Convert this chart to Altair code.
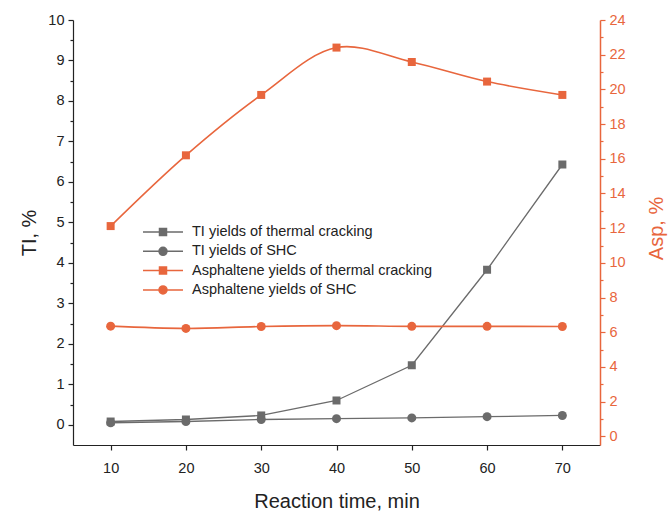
import altair as alt
import pandas as pd

# Reaction time (min) and yields (%)
time_min = [10, 20, 30, 40, 50, 60, 70]
ti_thermal = [0.08, 0.13, 0.23, 0.60, 1.47, 3.83, 6.43]
ti_shc = [0.05, 0.08, 0.13, 0.15, 0.17, 0.20, 0.23]
asp_thermal = [12.12, 16.20, 19.68, 22.41, 21.58, 20.45, 19.68]
asp_shc = [6.35, 6.22, 6.33, 6.38, 6.34, 6.34, 6.33]

series_names = [
    "TI yields of thermal cracking",
    "TI yields of SHC",
    "Asphaltene yields of thermal cracking",
    "Asphaltene yields of SHC",
]

x_ticks = [10, 20, 30, 40, 50, 60, 70]
ti_ticks = list(range(0, 11))
ti_minor = [i + 0.5 for i in range(0, 10)]
asp_ticks = list(range(0, 25, 2))
asp_minor = list(range(1, 24, 2))

GREY = "#6b6b6b"
ORANGE = "#e8663d"
INK = "#222222"
FONT = "Liberation Sans"

ti_df = pd.DataFrame({
    "time": time_min * 2,
    "value": ti_thermal + ti_shc,
    "series": [series_names[0]] * len(time_min) + [series_names[1]] * len(time_min),
})
asp_df = pd.DataFrame({
    "time": time_min * 2,
    "value": asp_thermal + asp_shc,
    "series": [series_names[2]] * len(time_min) + [series_names[3]] * len(time_min),
})

x_enc = alt.X(
    "time:Q",
    scale=alt.Scale(domain=[5, 75], nice=False, zero=False),
    axis=alt.Axis(
        values=x_ticks, title="Reaction time, min", grid=False,
        domainColor=INK, tickColor=INK, labelColor=INK, titleColor=INK,
        labelFont=FONT, titleFont=FONT, labelFontSize=14.5, titleFontSize=20,
        titleFontWeight="normal", tickSize=5, labelPadding=11, titlePadding=17,
        domainWidth=1.2, tickWidth=1.2,
    ),
)

ti_scale = alt.Scale(domain=[-0.5, 10], nice=False, zero=False)
asp_scale = alt.Scale(domain=[-0.5, 24], nice=False, zero=False)

ti_y = alt.Y(
    "value:Q", scale=ti_scale,
    axis=alt.Axis(
        orient="left", values=ti_ticks, title="TI, %", grid=False,
        domainColor=INK, tickColor=INK, labelColor=INK, titleColor=INK,
        labelFont=FONT, titleFont=FONT, labelFontSize=14.5, titleFontSize=20,
        titleFontWeight="normal", tickSize=5, labelPadding=4, titlePadding=8,
        domainWidth=1.2, tickWidth=1.2,
    ),
)
asp_y = alt.Y(
    "value:Q", scale=asp_scale,
    axis=alt.Axis(
        orient="right", values=asp_ticks, title="Asp, %", grid=False,
        domainColor=ORANGE, tickColor=ORANGE, labelColor=ORANGE, titleColor=ORANGE,
        labelFont=FONT, titleFont=FONT, labelFontSize=14.5, titleFontSize=20,
        titleFontWeight="normal", tickSize=5, labelPadding=4,
        titleAngle=270, titleBaseline="middle", titleAlign="center",
        titleX=56, titleY=208, domainWidth=1.5, tickWidth=1.2,
    ),
)

# TI series (left axis)
ti_base = alt.Chart(ti_df).encode(x=x_enc, y=ti_y)
ti_lines = ti_base.mark_line(color=GREY, strokeWidth=1.3).encode(detail="series:N")
ti_sq = ti_base.transform_filter(alt.datum.series == series_names[0]).mark_point(
    shape="square", filled=True, size=64, color=GREY, opacity=1)
ti_ci = ti_base.transform_filter(alt.datum.series == series_names[1]).mark_point(
    shape="circle", filled=True, size=81, color=GREY, opacity=1)
ti_group = alt.layer(ti_lines, ti_sq, ti_ci)

# minor ticks of the left axis
ti_minor_axis = alt.Chart(ti_df).transform_filter("false").mark_point().encode(
    y=alt.Y("value:Q", scale=ti_scale, axis=alt.Axis(
        orient="left", values=ti_minor, title="", labels=False, domain=False,
        grid=False, tickSize=3, tickColor=INK, tickWidth=1.2)))

# Asphaltene series (right axis)
asp_base = alt.Chart(asp_df).encode(x=x_enc, y=asp_y)
asp_line_t = asp_base.transform_filter(alt.datum.series == series_names[2]).mark_line(
    color=ORANGE, strokeWidth=1.6, interpolate="catmull-rom")
asp_line_s = asp_base.transform_filter(alt.datum.series == series_names[3]).mark_line(
    color=ORANGE, strokeWidth=1.6, interpolate="catmull-rom")
asp_sq = asp_base.transform_filter(alt.datum.series == series_names[2]).mark_point(
    shape="square", filled=True, size=64, color=ORANGE, opacity=1)
asp_ci = asp_base.transform_filter(alt.datum.series == series_names[3]).mark_point(
    shape="circle", filled=True, size=81, color=ORANGE, opacity=1)
asp_group = alt.layer(asp_line_t, asp_line_s, asp_sq, asp_ci)

# minor ticks of the right axis
asp_minor_axis = alt.Chart(asp_df).transform_filter("false").mark_point().encode(
    y=alt.Y("value:Q", scale=asp_scale, axis=alt.Axis(
        orient="right", values=asp_minor, title="", labels=False, domain=False,
        grid=False, tickSize=3, tickColor=ORANGE, tickWidth=1.2)))

# legend: line-with-marker symbols
sq_sym = "M-2.857,0H2.857M-0.5,-0.5H0.5V0.5H-0.5Z"
ci_sym = "M-2.857,0H2.857M-0.571,0A0.571,0.571,0,1,0,0.571,0A0.571,0.571,0,1,0,-0.571,0Z"
legend_colors = [GREY, GREY, ORANGE, ORANGE]
legend_shapes = [sq_sym, ci_sym, sq_sym, ci_sym]

leg = alt.Legend(
    orient="none", legendX=82, legendY=204, padding=0,
    labelFont=FONT, labelFontSize=14.5, labelColor=INK, labelLimit=400,
    symbolSize=196, symbolStrokeWidth=1.5, labelOffset=21, rowPadding=4.3,
)
legend_layer = alt.Chart(ti_df).transform_filter("false").mark_point(
    filled=True, strokeWidth=1.5, opacity=1).encode(
    fill=alt.Fill("series:N", title="", legend=leg,
                  scale=alt.Scale(domain=series_names, range=legend_colors)),
    stroke=alt.Stroke("series:N", title="", legend=leg,
                      scale=alt.Scale(domain=series_names, range=legend_colors)),
    shape=alt.Shape("series:N", title="", legend=leg,
                    scale=alt.Scale(domain=series_names, range=legend_shapes)),
)

chart = alt.layer(
    ti_group, ti_minor_axis, asp_group, asp_minor_axis, legend_layer
).resolve_scale(
    y="independent"
).properties(
    width=527, height=425,
    autosize=alt.AutoSizeParams(type="none"),
    padding={"left": 73, "top": 20, "right": 70, "bottom": 68},
    background="white",
).configure_view(stroke=None)

chart.save("out.html", embed_options={"renderer": "svg", "actions": False})
